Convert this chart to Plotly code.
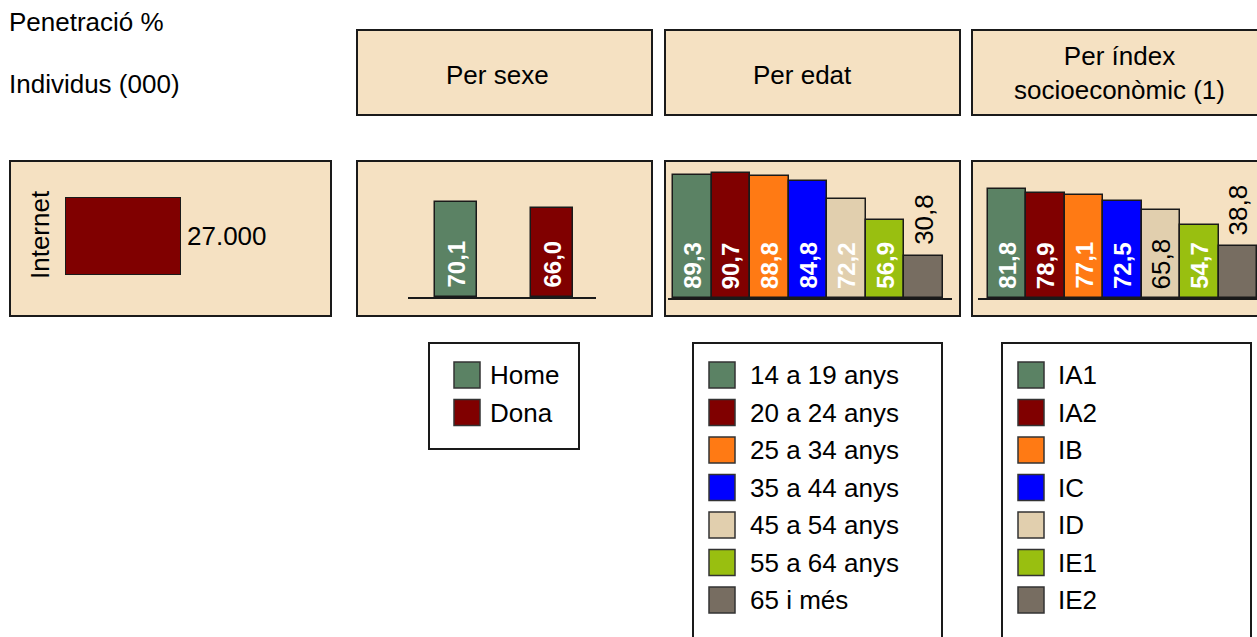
import plotly.graph_objects as go

W, H = 1257, 637

# ---- data ----
internet_label = "Internet"
internet_users = 27000  # thousands of individuals

sex_cats = ["Home", "Dona"]
sex_vals = [70.1, 66.0]

age_cats = ["14 a 19 anys", "20 a 24 anys", "25 a 34 anys", "35 a 44 anys",
            "45 a 54 anys", "55 a 64 anys", "65 i més"]
age_vals = [89.3, 90.7, 88.8, 84.8, 72.2, 56.9, 30.8]

idx_cats = ["IA1", "IA2", "IB", "IC", "ID", "IE1", "IE2"]
idx_vals = [81.8, 78.9, 77.1, 72.5, 65.8, 54.7, 38.8]

# ---- styles ----
palette = ["#5B8264", "#800000", "#FF7A14", "#0000FF", "#E1CFAE", "#99BF10", "#776D61"]
sex_colors = palette[:2]
panel_bg = "#F5E1C2"
edge = "#1a1a1a"
FONT = "Liberation Sans, Arial, Helvetica, sans-serif"
FS = 26

# label style per bar: "in" = white bold inside, "dark" = black inside, "out" = black above
sex_label = ["in", "in"]
age_label = ["in", "in", "in", "in", "in", "in", "out"]
idx_label = ["in", "in", "in", "in", "dark", "in", "out"]


def px(x):
    return x / W


def py(y):
    return 1 - y / H


def fmt(v):
    return f"{v:.1f}".replace(".", ",")


def fmt_thousands(v):
    return f"{v:,.0f}".replace(",", ".")


fig = go.Figure()

# Internet total (horizontal bar)
fig.add_trace(go.Bar(
    x=[internet_users], y=[0], orientation="h", width=1,
    marker=dict(color="#800000", line=dict(color=edge, width=2)),
    xaxis="x", yaxis="y", hoverinfo="skip", showlegend=False,
))

# panels of vertical bars
groups = [
    ("x2", "y2", sex_vals, sex_colors, sex_label),
    ("x3", "y3", age_vals, palette, age_label),
    ("x4", "y4", idx_vals, palette, idx_label),
]
annotations = []
for xa, ya, vals, cols, styles in groups:
    n = len(vals)
    fig.add_trace(go.Bar(
        x=list(range(n)), y=vals, width=[0.4375 if n == 2 else 1] * n,
        marker=dict(color=cols[:n], line=dict(color=edge, width=1.5)),
        xaxis=xa, yaxis=ya, hoverinfo="skip", showlegend=False,
    ))
    for i, (v, s) in enumerate(zip(vals, styles)):
        if s == "out":
            annotations.append(dict(
                x=i, y=v, xref=xa, yref=ya, text=fmt(v), textangle=-90,
                xanchor="center", yanchor="bottom", yshift=9, showarrow=False,
                font=dict(family=FONT, size=FS, color="black")))
        else:
            bold = s == "in"
            annotations.append(dict(
                x=i, y=0, xref=xa, yref=ya,
                text=f"<b>{fmt(v)}</b>" if bold else fmt(v), textangle=-90,
                xanchor="center", yanchor="bottom", yshift=7, showarrow=False,
                font=dict(family=FONT, size=24 if bold else FS,
                          color="white" if bold else "black")))

# value of the Internet bar
annotations.append(dict(
    x=internet_users, y=0, xref="x", yref="y", text=fmt_thousands(internet_users),
    xanchor="left", yanchor="middle", xshift=4, showarrow=False,
    font=dict(family=FONT, size=FS, color="black")))

# fixed text
def text(x, y, s, xanchor="left", size=FS, angle=0):
    annotations.append(dict(
        x=px(x), y=py(y), xref="paper", yref="paper", text=s, textangle=angle,
        xanchor=xanchor, yanchor="middle", showarrow=False,
        font=dict(family=FONT, size=size, color="black")))


text(7, 22, "Penetració %")
text(7, 84, "Individus (000)")
text(497, 75, "Per sexe", "center")
text(802, 75, "Per edat", "center")
text(1119, 73, "Per índex<br>socioeconòmic (1)", "center")
text(40, 235, internet_label, "center", angle=-90)

shapes = []


def rect(x0, y0, x1, y1, fill, lw=2, color=edge, layer="below"):
    shapes.append(dict(type="rect", xref="paper", yref="paper",
                       x0=px(x0), x1=px(x1), y0=py(y1), y1=py(y0),
                       fillcolor=fill, line=dict(color=color, width=lw), layer=layer))


# header boxes
rect(357, 30, 652, 115, panel_bg)
rect(665, 30, 960, 115, panel_bg)
rect(972, 30, 1265, 115, panel_bg)
# chart panels
rect(10, 161, 331, 316, panel_bg)
rect(357, 161, 652, 316, panel_bg)
rect(665, 161, 960, 316, panel_bg)
rect(972, 161, 1265, 316, panel_bg)

# legends
legends = [
    (429, 579, 449, 454, 488, sex_cats, sex_colors),
    (693, 942, 650, 709, 748, age_cats, palette),
    (1002, 1251, 650, 1018, 1056, idx_cats, palette),
]
for bx0, bx1, by1, sx, tx, cats, cols in legends:
    rect(bx0, 343, bx1, by1, "white")
    for i, (c, col) in enumerate(zip(cats, cols)):
        cy = 375 + 37.5 * i
        rect(sx, cy - 13, sx + 26, cy + 13, col, lw=1.5, color="#333333", layer="above")
        text(tx, cy, c)

axis_off = dict(showgrid=False, zeroline=False, showticklabels=False, ticks="",
                fixedrange=True)
base_line = dict(showline=True, linecolor=edge, linewidth=1.5)

fig.update_layout(
    width=W, height=H, margin=dict(l=0, r=0, t=0, b=0),
    paper_bgcolor="white", plot_bgcolor="rgba(0,0,0,0)",
    bargap=0, showlegend=False,
    xaxis=dict(domain=[px(65), px(181)], range=[0, internet_users], anchor="y", **axis_off),
    yaxis=dict(domain=[py(275), py(197)], range=[-0.5, 0.5], anchor="x", **axis_off),
    xaxis2=dict(domain=[px(408), px(596)], range=[-0.5, 1.458], anchor="y2", **axis_off, **base_line),
    yaxis2=dict(domain=[py(297), py(170)], range=[0, 127 / 1.355], anchor="x2", **axis_off),
    xaxis3=dict(domain=[px(668), px(952)], range=[-0.63, 6.733], anchor="y3", **axis_off, **base_line),
    yaxis3=dict(domain=[py(298), py(164)], range=[0, 134 / 1.376], anchor="x3", **axis_off),
    xaxis4=dict(domain=[px(978), 1.0], range=[-0.76, 6.5], anchor="y4", **axis_off, **base_line),
    yaxis4=dict(domain=[py(298), py(164)], range=[0, 134 / 1.335], anchor="x4", **axis_off),
    shapes=shapes, annotations=annotations,
)

fig.write_html("out.html")
